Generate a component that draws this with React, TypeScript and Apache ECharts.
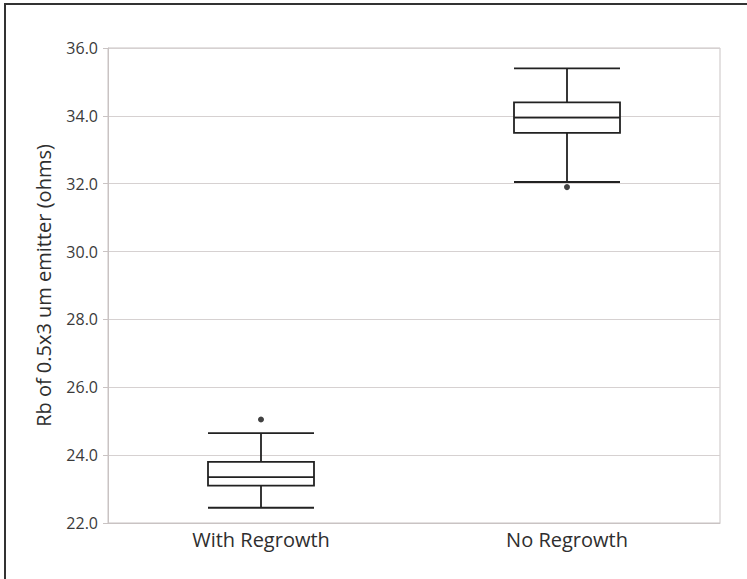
import React, { useEffect, useRef } from "react";
import * as echarts from "echarts";

const categories = ["With Regrowth", "No Regrowth"];
// [lower whisker, Q1, median, Q3, upper whisker]
const boxValues = [
  [22.45, 23.1, 23.35, 23.8, 24.65],
  [32.05, 33.5, 33.95, 34.4, 35.4],
];
const outliers: [string, number][] = [
  ["With Regrowth", 25.05],
  ["No Regrowth", 31.9],
];
const yTitle = "Rb of 0.5x3 um emitter (ohms)";
const yMin = 22;
const yMax = 36;
const yStep = 2;

export default function App() {
  const ref = useRef<HTMLDivElement>(null);
  useEffect(() => {
    if (!ref.current) return;
    const chart = echarts.init(ref.current, null, { renderer: "svg" });
    const font = "'Open Sans', 'Noto Sans', sans-serif";
    chart.setOption({
      animation: false,
      backgroundColor: "#ffffff",
      grid: {
        left: 108,
        right: 27,
        top: 48,
        bottom: 56,
        show: true,
        borderColor: "#c9c3c3",
        borderWidth: 1,
        backgroundColor: "transparent",
      },
      xAxis: {
        type: "category",
        data: categories,
        axisLine: { show: true, lineStyle: { color: "#c9c3c3", width: 1 } },
        axisTick: { show: false },
        axisLabel: { color: "#2e2e2e", fontSize: 20, fontFamily: font, margin: 6 },
        splitLine: { show: false },
      },
      yAxis: {
        type: "value",
        min: yMin,
        max: yMax,
        interval: yStep,
        name: yTitle,
        nameLocation: "middle",
        nameGap: 55,
        nameTextStyle: { color: "#2e2e2e", fontSize: 20, fontFamily: font },
        axisLine: { show: true, lineStyle: { color: "#c9c3c3", width: 1 } },
        axisTick: { show: true, length: 5, lineStyle: { color: "#c9c3c3" } },
        axisLabel: {
          color: "#3a3a3a",
          fontSize: 16,
          fontFamily: font,
          margin: 10,
          formatter: (v: number) => v.toFixed(1),
        },
        splitLine: { show: true, lineStyle: { color: "#d6d1d1", width: 1 } },
      },
      series: [
        {
          type: "boxplot",
          data: boxValues,
          boxWidth: [106, 106],
          itemStyle: { color: "transparent", borderColor: "#222", borderWidth: 1.8 },
        },
        {
          type: "scatter",
          data: outliers,
          symbol: "circle",
          symbolSize: 6,
          itemStyle: { color: "#111" },
        },
      ],
      graphic: [
        {
          type: "polyline",
          shape: { points: [[5, 579], [5, 4], [747, 4]] },
          style: { stroke: "#333", lineWidth: 2, fill: "none" },
        },
      ],
    });
    return () => chart.dispose();
  }, []);
  return (
    <div
      ref={ref}
      style={{ position: "fixed", left: 0, top: 0, width: 747, height: 579 }}
    />
  );
}
